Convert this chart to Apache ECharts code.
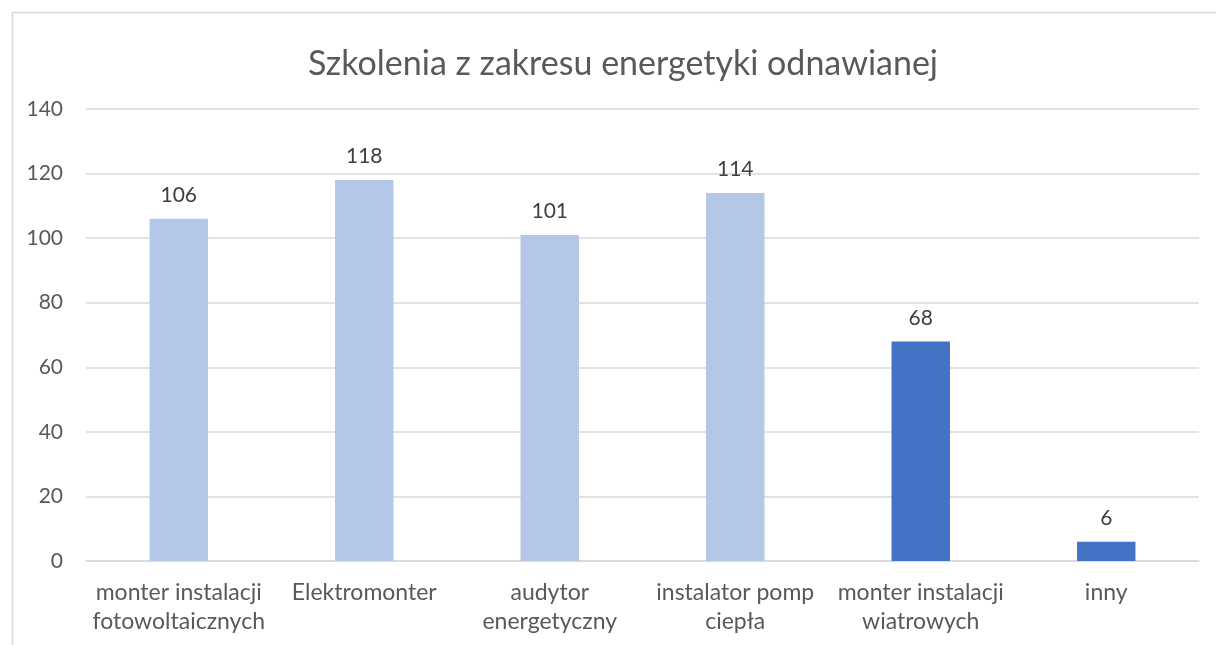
<!DOCTYPE html>
<html><head><meta charset="utf-8">
<script src="https://cdn.jsdelivr.net/npm/echarts@6/dist/echarts.min.js"></script>
<style>html,body{margin:0;padding:0;background:#fff}#c{width:1216px;height:645px}</style>
</head><body><div id="c"></div>
<script>
const titleText = 'Szkolenia z zakresu energetyki odnawianej';
const categories = ['monter instalacji\nfotowoltaicznych', 'Elektromonter', 'audytor\nenergetyczny', 'instalator pomp\nciepła', 'monter instalacji\nwiatrowych', 'inny'];
const values = [106, 118, 101, 114, 68, 6];
const lightCount = 4;

const FONT = 'Lato';
const TXT = '#595959';
const chart = echarts.init(document.getElementById('c'), null, {renderer: 'canvas'});
chart.setOption({
  backgroundColor: '#fff',
  animation: false,
  graphic: [{
    type: 'rect', left: 10, top: 10,
    shape: {width: 1300, height: 700},
    style: {fill: 'none', stroke: '#d9d9d9', lineWidth: 1.5}, silent: true
  }],
  title: {
    text: titleText, left: 618, top: 42, textAlign: 'center',
    textStyle: {fontFamily: FONT, fontSize: 34, fontWeight: 'normal', color: TXT}
  },
  grid: {left: 86, right: 17, top: 109, bottom: 84, containLabel: false},
  xAxis: {
    type: 'category', data: categories,
    axisLine: {lineStyle: {color: '#d9d9d9', width: 1.5}},
    axisTick: {show: false},
    axisLabel: {fontFamily: FONT, fontSize: 23, color: TXT, margin: 17, lineHeight: 29, interval: 0}
  },
  yAxis: {
    type: 'value', min: 0, max: 140, interval: 20,
    axisLine: {show: false}, axisTick: {show: false},
    splitLine: {lineStyle: {color: '#d9d9d9', width: 1.5}},
    axisLabel: {fontFamily: FONT, fontSize: 21, color: TXT, margin: 23}
  },
  series: [{
    type: 'bar', data: values, barWidth: '31.5%',
    itemStyle: {color: p => p.dataIndex < lightCount ? '#B4C7E7' : '#4472C4'},
    label: {show: true, position: 'top', distance: 13, fontFamily: FONT, fontSize: 21, color: '#404040'}
  }]
});
</script></body></html>
